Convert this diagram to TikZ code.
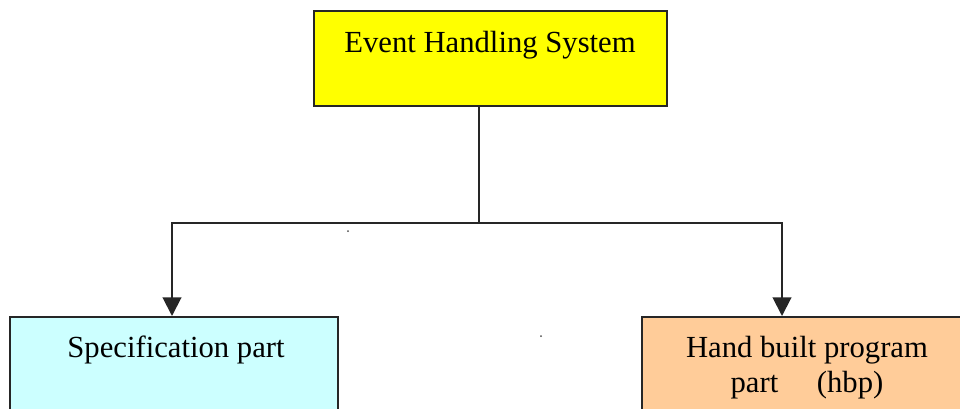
\documentclass[tikz,border=0pt]{standalone}
\usepackage{fontspec}
\setmainfont{Liberation Serif}
\usetikzlibrary{arrows.meta}
\begin{document}
\begin{tikzpicture}[x=0.75pt,y=-0.75pt,
  box/.style={draw=black!85, line width=1.5pt, rectangle, inner sep=0pt},
  lbl/.style={anchor=base, inner sep=0pt, font=\fontsize{23}{28}\selectfont},
  conn/.style={draw=black!85, line width=1.5pt},
  arr/.style={conn, -{Triangle[width=14pt,length=14pt]}},
  dotmark/.style={circle, fill=black!70, inner sep=0pt, minimum size=1.5pt}]
\useasboundingbox (0,0) rectangle (960,408);
\node[box, fill={rgb,255:red,255;green,255;blue,0}, minimum width=264.75pt, minimum height=71.25pt] (top) at (490.5,58.5) {};
\node[box, fill={rgb,255:red,204;green,255;blue,255}, minimum width=246pt, minimum height=90pt] (left) at (174,377) {};
\node[box, fill={rgb,255:red,255;green,204;blue,153}, minimum width=253.5pt, minimum height=90pt] (right) at (811,377) {};
\node[lbl] (ttop) at (490,52) {Event Handling System};
\node[lbl] (tleft) at (176,357) {Specification part};
\node[lbl] (tright1) at (807,357) {Hand built program};
\node[lbl] (tright2) at (807,392) {part\hspace{29pt}(hbp)};
\coordinate (j) at (479,223);
\path (right.north west) ++(141,0) coordinate (rt);
\path (left.north west) ++(163,0) coordinate (lt);
\draw[conn] (top.south -| j) -- (j);
\draw[arr] (j) -| (lt);
\draw[arr] (j) -| (rt);
\node[dotmark] (d1) at (348,231) {};
\node[dotmark] (d2) at (541,336) {};
\end{tikzpicture}
\end{document}
